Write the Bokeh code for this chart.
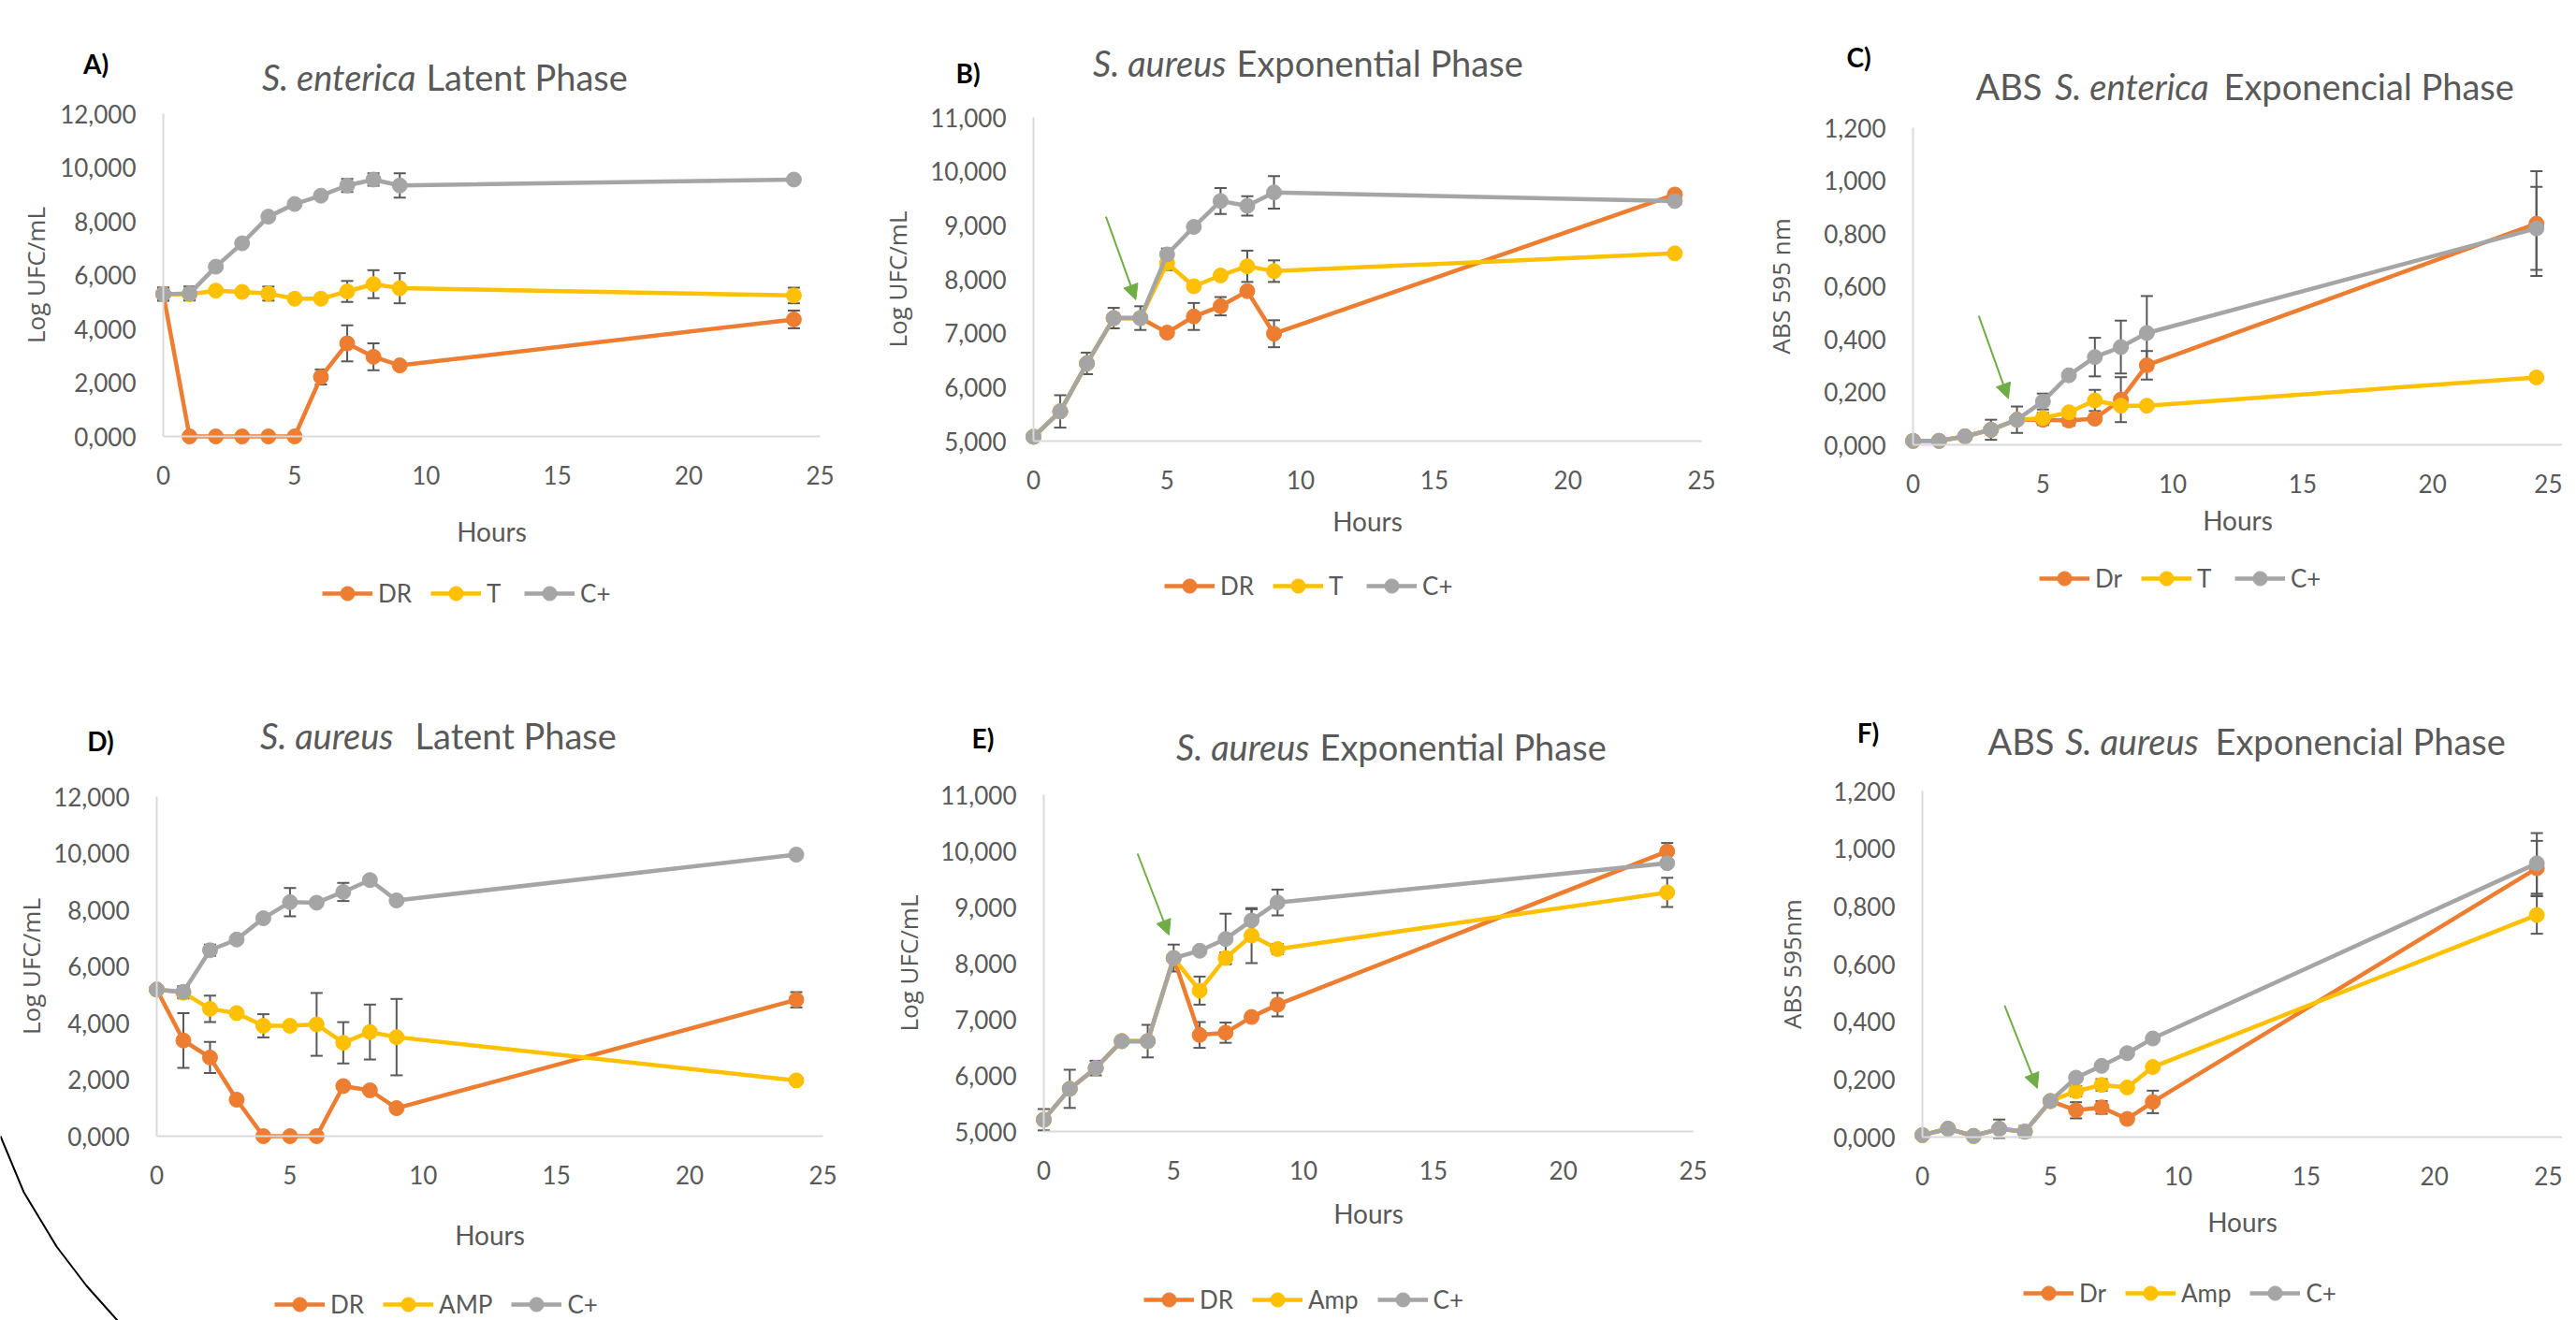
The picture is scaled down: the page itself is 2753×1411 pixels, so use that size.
from bokeh.plotting import figure
from bokeh.layouts import column, row
from bokeh.models import (Range1d, FixedTicker, Label, Legend, LegendItem, Whisker, TeeHead,
                          ColumnDataSource, Arrow, NormalHead, LinearAxis, PolyAnnotation)
from bokeh.embed import file_html
from bokeh.resources import INLINE

# ---------------- data ----------------
HOURS = [0, 1, 2, 3, 4, 5, 6, 7, 8, 9, 24]
X_TICKS = [0, 5, 10, 15, 20, 25]

LOG12_TICKS = [0, 2, 4, 6, 8, 10, 12]
LOG12_LABELS = ["0,000", "2,000", "4,000", "6,000", "8,000", "10,000", "12,000"]
LOG11_TICKS = [5, 6, 7, 8, 9, 10, 11]
LOG11_LABELS = ["5,000", "6,000", "7,000", "8,000", "9,000", "10,000", "11,000"]
ABS_TICKS = [0.0, 0.2, 0.4, 0.6, 0.8, 1.0, 1.2]
ABS_LABELS = ["0,000", "0,200", "0,400", "0,600", "0,800", "1,000", "1,200"]

# A) S. enterica latent phase (Log UFC/mL)
A_DR = [5.30, 0.00, 0.00, 0.00, 0.00, 0.00, 2.21, 3.46, 2.96, 2.64, 4.35]
A_DR_ERR = [0, 0, 0, 0, 0, 0, 0.28, 0.67, 0.50, 0, 0.33]
A_T = [5.29, 5.29, 5.42, 5.37, 5.31, 5.12, 5.12, 5.39, 5.66, 5.51, 5.24]
A_T_ERR = [0.25, 0.20, 0, 0, 0.26, 0, 0, 0.39, 0.52, 0.56, 0.29]
A_CP = [5.29, 5.31, 6.31, 7.18, 8.17, 8.64, 8.95, 9.33, 9.55, 9.33, 9.55]
A_CP_ERR = [0.20, 0.26, 0, 0, 0, 0, 0, 0.24, 0.23, 0.45, 0]

# B) S. aureus exponential phase (Log UFC/mL)
B_DR = [5.08, 5.55, 6.44, 7.28, 7.28, 7.01, 7.31, 7.50, 7.78, 6.99, 9.57]
B_DR_ERR = [0, 0, 0, 0, 0, 0, 0.25, 0.17, 0, 0.25, 0]
B_T = [5.08, 5.55, 6.44, 7.28, 7.28, 8.30, 7.87, 8.07, 8.24, 8.15, 8.48]
B_T_ERR = [0, 0, 0, 0, 0, 0.13, 0, 0, 0.29, 0.20, 0]
B_CP = [5.08, 5.55, 6.44, 7.28, 7.28, 8.46, 8.97, 9.45, 9.36, 9.61, 9.45]
B_CP_ERR = [0, 0.30, 0.20, 0.19, 0.22, 0.11, 0, 0.24, 0.18, 0.30, 0]

# C) ABS S. enterica exponential phase (ABS 595 nm)
C_DR = [0.015, 0.015, 0.032, 0.057, 0.095, 0.095, 0.092, 0.099, 0.171, 0.301, 0.837]
C_DR_ERR = [0, 0, 0, 0, 0, 0.02, 0.02, 0, 0.085, 0.054, 0.198]
C_T = [0.015, 0.015, 0.032, 0.057, 0.095, 0.101, 0.123, 0.168, 0.148, 0.148, 0.255]
C_T_ERR = [0, 0, 0, 0, 0, 0.02, 0, 0.04, 0, 0, 0]
C_CP = [0.015, 0.015, 0.032, 0.057, 0.095, 0.164, 0.263, 0.332, 0.370, 0.423, 0.819]
C_CP_ERR = [0.01, 0.01, 0, 0.038, 0.05, 0.03, 0, 0.073, 0.10, 0.14, 0.157]

# D) S. aureus latent phase (Log UFC/mL)
D_DR = [5.18, 3.38, 2.78, 1.29, 0.00, 0.00, 0.00, 1.77, 1.62, 0.99, 4.82]
D_DR_ERR = [0, 0.97, 0.55, 0, 0, 0, 0, 0, 0, 0, 0.27]
D_AMP = [5.18, 5.07, 4.50, 4.35, 3.90, 3.90, 3.95, 3.30, 3.68, 3.50, 1.97]
D_AMP_ERR = [0, 0.20, 0.47, 0, 0.41, 0, 1.11, 0.73, 0.97, 1.35, 0]
D_CP = [5.18, 5.10, 6.57, 6.95, 7.70, 8.27, 8.25, 8.63, 9.05, 8.33, 9.95]
D_CP_ERR = [0, 0.20, 0.20, 0, 0, 0.50, 0, 0.32, 0, 0, 0]

# E) S. aureus exponential phase (Log UFC/mL)
E_DR = [5.21, 5.76, 6.13, 6.61, 6.61, 8.09, 6.72, 6.76, 7.04, 7.26, 9.99]
E_DR_ERR = [0, 0, 0, 0, 0, 0, 0.23, 0.18, 0, 0.21, 0.15]
E_AMP = [5.21, 5.76, 6.13, 6.61, 6.61, 8.09, 7.51, 8.09, 8.49, 8.25, 9.26]
E_AMP_ERR = [0, 0, 0, 0, 0, 0, 0.25, 0.10, 0.49, 0.09, 0.26]
E_CP = [5.21, 5.76, 6.13, 6.61, 6.61, 8.09, 8.22, 8.43, 8.76, 9.08, 9.78]
E_CP_ERR = [0.19, 0.34, 0.13, 0, 0.29, 0.24, 0, 0.45, 0.20, 0.23, 0]

# F) ABS S. aureus exponential phase (ABS 595nm)
F_DR = [0.007, 0.029, 0.004, 0.029, 0.019, 0.125, 0.093, 0.103, 0.063, 0.122, 0.932]
F_DR_ERR = [0, 0, 0, 0, 0, 0, 0.028, 0.022, 0, 0.039, 0.095]
F_AMP = [0.007, 0.029, 0.004, 0.029, 0.019, 0.125, 0.159, 0.181, 0.172, 0.243, 0.770]
F_AMP_ERR = [0, 0, 0, 0, 0, 0, 0.018, 0.02, 0, 0, 0.065]
F_CP = [0.007, 0.029, 0.004, 0.029, 0.019, 0.125, 0.206, 0.247, 0.291, 0.342, 0.949]
F_CP_ERR = [0, 0, 0, 0.032, 0.02, 0, 0, 0, 0, 0, 0.105]

# green arrows (start x, start y, end x, end y) in data units
B_ARROW = [2.71, 9.16, 3.83, 7.62]
C_ARROW = [2.53, 0.488, 3.67, 0.175]
E_ARROW = [3.61, 9.95, 4.82, 8.50]
F_ARROW = [3.21, 0.456, 4.49, 0.169]

# ---------------- style ----------------
ORANGE = "#ED7D31"
YELLOW = "#FFC000"
GRAY = "#A5A5A5"
GREEN = "#70AD47"
TXT = "#595959"
AXIS = "#D9D9D9"
FONT = "Lato"

# layout geometry in page pixels: figure box (x0, y0, w, h) and plot area (fl, fr, ft, fb)
# title pieces: (text, style, x, align)
PANELS = [
    dict(x0=0, y0=0, w=920, h=680, fl=174, fr=876, ft=121, fb=466,
         yr=(0, 12), yt=LOG12_TICKS, yl=LOG12_LABELS, ylabel="Log UFC/mL",
         series=[("DR", A_DR, A_DR_ERR, ORANGE), ("T", A_T, A_T_ERR, YELLOW),
                 ("C+", A_CP, A_CP_ERR, GRAY)],
         title=[("S. enterica", "italic", 444, "right"), ("Latent Phase", "normal", 455, "left")],
         ty=81, tag=("A)", 102, 67), ylst=5, xlst=30, leg=(344, 634), arrow=None),
    dict(x0=920, y0=0, w=920, h=680, fl=1104, fr=1818, ft=125, fb=471,
         yr=(5, 11), yt=LOG11_TICKS, yl=LOG11_LABELS, ylabel="Log UFC/mL",
         series=[("DR", B_DR, B_DR_ERR, ORANGE), ("T", B_T, B_T_ERR, YELLOW),
                 ("C+", B_CP, B_CP_ERR, GRAY)],
         title=[("S. aureus", "italic", 1310, "right"),
                ("Exponential Phase", "normal", 1321, "left")],
         ty=66, tag=("B)", 1034, 77), ylst=14, xlst=14, leg=(1244, 626), arrow=B_ARROW),
    dict(x0=1840, y0=0, w=898, h=680, fl=2044, fr=2738, ft=136, fb=475,
         yr=(0, 1.2), yt=ABS_TICKS, yl=ABS_LABELS, ylabel="ABS 595 nm",
         series=[("Dr", C_DR, C_DR_ERR, ORANGE), ("T", C_T, C_T_ERR, YELLOW),
                 ("C+", C_CP, C_CP_ERR, GRAY)],
         title=[("ABS", "normal", 2111, "left"), ("S. enterica", "italic", 2278, "center"),
                ("Exponencial Phase", "normal", 2376, "left")],
         ty=91, tag=("C)", 1986, 60), ylst=25, xlst=9, leg=(2179, 618), arrow=C_ARROW),
    dict(x0=0, y0=680, w=920, h=731, fl=167, fr=879, ft=851, fb=1214,
         yr=(0, 12), yt=LOG12_TICKS, yl=LOG12_LABELS, ylabel="Log UFC/mL",
         series=[("DR", D_DR, D_DR_ERR, ORANGE), ("AMP", D_AMP, D_AMP_ERR, YELLOW),
                 ("C+", D_CP, D_CP_ERR, GRAY)],
         title=[("S. aureus", "italic", 420, "right"), ("Latent Phase", "normal", 443, "left")],
         ty=785, tag=("D)", 107, 791), ylst=3, xlst=34, leg=(293, 1394), arrow=None),
    dict(x0=920, y0=680, w=920, h=731, fl=1115, fr=1809, ft=849, fb=1209,
         yr=(5, 11), yt=LOG11_TICKS, yl=LOG11_LABELS, ylabel="Log UFC/mL",
         series=[("DR", E_DR, E_DR_ERR, ORANGE), ("Amp", E_AMP, E_AMP_ERR, YELLOW),
                 ("C+", E_CP, E_CP_ERR, GRAY)],
         title=[("S. aureus", "italic", 1399, "right"),
                ("Exponential Phase", "normal", 1410, "left")],
         ty=797, tag=("E)", 1050, 788), ylst=13, xlst=16, leg=(1222, 1389), arrow=E_ARROW),
    dict(x0=1840, y0=680, w=898, h=731, fl=2054, fr=2738, ft=845, fb=1215,
         yr=(0, 1.2), yt=ABS_TICKS, yl=ABS_LABELS, ylabel="ABS 595nm",
         series=[("Dr", F_DR, F_DR_ERR, ORANGE), ("Amp", F_AMP, F_AMP_ERR, YELLOW),
                 ("C+", F_CP, F_CP_ERR, GRAY)],
         title=[("ABS", "normal", 2124, "left"), ("S. aureus", "italic", 2278, "center"),
                ("Exponencial Phase", "normal", 2367, "left")],
         ty=791, tag=("F)", 1996, 782), ylst=23, xlst=19, leg=(2162, 1382), arrow=F_ARROW),
]

LEG_H = 38


def style_axis(ax):
    ax.axis_line_color = AXIS
    ax.axis_line_width = 2
    ax.major_tick_line_color = None
    ax.minor_tick_line_color = None
    ax.major_tick_out = 0
    ax.major_tick_in = 0
    ax.major_label_text_font = FONT
    ax.major_label_text_font_size = "26px"
    ax.major_label_text_color = TXT
    ax.axis_label_text_color = TXT
    ax.axis_label_text_font_style = "normal"


def make_panel(c):
    ymin, ymax = c["yr"]
    kx = (c["fr"] - c["fl"]) / 25.0
    ky = (c["fb"] - c["ft"]) / float(ymax - ymin)
    bottom_edge = c["y0"] + c["h"]
    xr = Range1d(-(c["fl"] - c["x0"]) / kx, 25 + (c["x0"] + c["w"] - c["fr"]) / kx)
    yr = Range1d(ymin - (bottom_edge - c["fb"]) / ky, ymax + (c["ft"] - c["y0"]) / ky)
    p = figure(width=c["w"], height=c["h"], x_range=xr, y_range=yr,
               x_axis_location=None, y_axis_location=None, min_border=0,
               output_backend="svg", toolbar_location=None)
    p.outline_line_color = None
    p.grid.visible = False

    xaxis = LinearAxis(fixed_location=ymin, bounds=(0, 25), ticker=FixedTicker(ticks=X_TICKS),
                       axis_label="Hours")
    style_axis(xaxis)
    xaxis.major_label_standoff = 31
    xaxis.axis_label_text_font = FONT
    xaxis.axis_label_text_font_size = "28px"
    xaxis.axis_label_standoff = c["xlst"]
    p.add_layout(xaxis, "below")

    yaxis = LinearAxis(fixed_location=0, bounds=(ymin, ymax), ticker=FixedTicker(ticks=c["yt"]),
                       axis_label=c["ylabel"])
    style_axis(yaxis)
    yaxis.major_label_overrides = dict(zip(c["yt"], c["yl"]))
    yaxis.major_label_standoff = 29
    yaxis.axis_label_text_font = "Open Sans"
    yaxis.axis_label_text_font_size = "26px"
    yaxis.axis_label_standoff = c["ylst"]
    p.add_layout(yaxis, "left")

    items = []
    for name, ys, errs, color in c["series"]:
        bx = [h for h, e in zip(HOURS, errs) if e > 0]
        up = [y + e for y, e in zip(ys, errs) if e > 0]
        lo = [y - e for y, e in zip(ys, errs) if e > 0]
        if bx:
            src = ColumnDataSource(dict(x=bx, upper=up, lower=lo))
            p.add_layout(Whisker(base="x", upper="upper", lower="lower", source=src,
                                 line_color="#595959", line_width=2, level="underlay",
                                 upper_head=TeeHead(size=13, line_color="#595959", line_width=2),
                                 lower_head=TeeHead(size=13, line_color="#595959", line_width=2)))
        ln = p.line(HOURS, ys, line_color=color, line_width=4.5)
        sc = p.scatter(HOURS, ys, size=16, fill_color=color, line_color=color)
        items.append(LegendItem(label=name, renderers=[ln, sc]))

    if c["arrow"] is not None:
        xs, ys0, xe, ye = c["arrow"]
        p.add_layout(Arrow(x_start=xs, y_start=ys0, x_end=xe, y_end=ye,
                           line_color=GREEN, line_width=2,
                           end=NormalHead(size=16, fill_color=GREEN, line_color=GREEN)))

    lx, ly = c["leg"]
    p.add_layout(Legend(items=items, orientation="horizontal",
                        location=(lx - c["x0"], bottom_edge - ly - LEG_H / 2),
                        glyph_width=54, glyph_height=LEG_H, label_standoff=6, spacing=20,
                        padding=0, margin=0, border_line_alpha=0, background_fill_alpha=0,
                        label_text_font=FONT, label_text_font_size="26px",
                        label_text_color=TXT))

    for text, style, tx, align in c["title"]:
        p.add_layout(Label(x=tx - c["x0"], y=bottom_edge - c["ty"],
                           x_units="screen", y_units="screen", text=text,
                           text_font=FONT, text_font_style=style, text_font_size="38px",
                           text_color=TXT, text_align=align, text_baseline="middle"))
    tg, tx, ty = c["tag"]
    p.add_layout(Label(x=tx - c["x0"], y=bottom_edge - ty, x_units="screen", y_units="screen",
                       text=tg, text_font=FONT, text_font_style="bold", text_font_size="28px",
                       text_color="black", text_align="center", text_baseline="middle"))
    return p


figs = [make_panel(c) for c in PANELS]

# decorative black arc in the lower-left corner of the page (inside panel D's box)
ARC_X = [0, 25, 60, 92, 125, 135]
ARC_Y = [1214, 1274, 1332, 1374, 1411, 1422]
dp = PANELS[3]
axs = [x - dp["x0"] for x in ARC_X]
ays = [dp["y0"] + dp["h"] - y for y in ARC_Y]
figs[3].add_layout(PolyAnnotation(xs=axs + axs[::-1], ys=ays + ays[::-1],
                                  xs_units="screen", ys_units="screen",
                                  fill_alpha=0, line_alpha=1.0,
                                  line_color="black", line_width=2))

layout = column(row(*figs[:3], spacing=0), row(*figs[3:], spacing=0), spacing=0)
open("out.html", "w").write(file_html(layout, INLINE))
